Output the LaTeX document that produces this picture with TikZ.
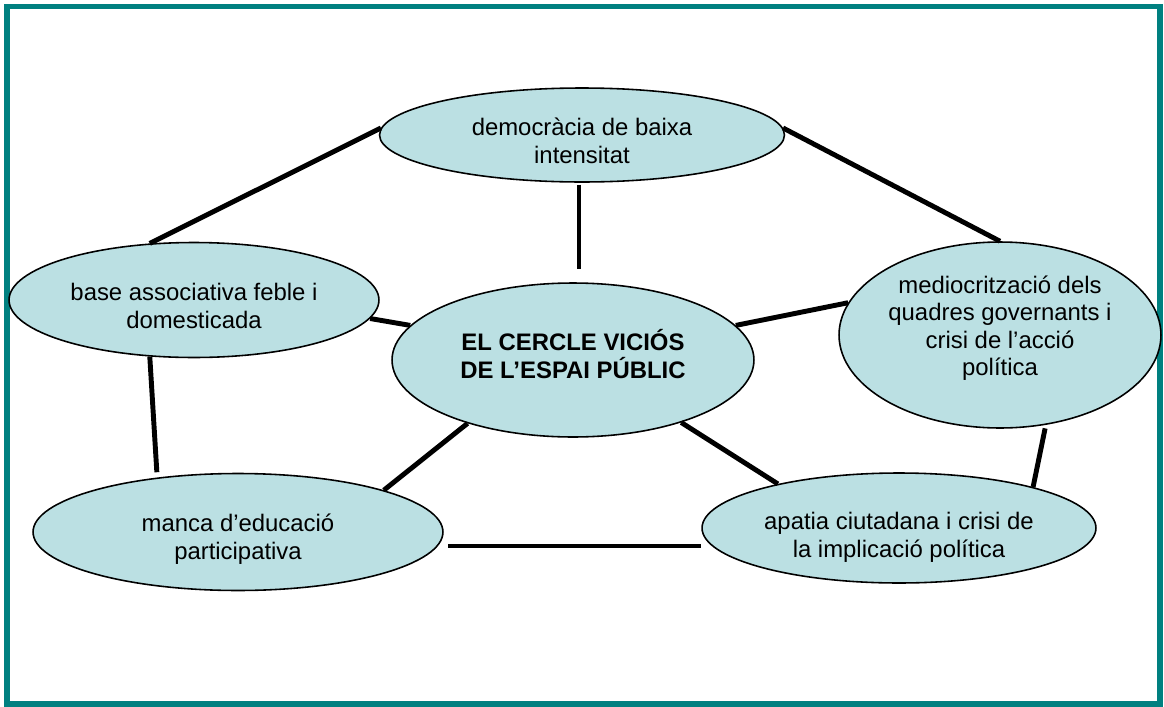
\documentclass[tikz,border=0pt]{standalone}
\usepackage{fontspec}
\setmainfont{Liberation Sans}
\usetikzlibrary{shapes.geometric}
\definecolor{bubble}{RGB}{187,224,227}
\definecolor{frame}{RGB}{0,128,128}
\begin{document}
\begin{tikzpicture}[x=0.02cm, y=-0.02cm,
	bubble/.style={ellipse, draw=black, line width=0.9pt, fill=bubble, inner sep=0pt},
	words/.style={inner sep=0pt, align=center, font=\fontsize{13.6}{15.6}\selectfont},
	link/.style={line width=2.8pt, black}]
	\useasboundingbox (0,0) rectangle (1164,707);
	\draw[frame, line width=3.2pt] (7,6.5) rectangle (1160,704);
	% the six ellipses
	\node[bubble, minimum width=8.1cm, minimum height=1.88cm] (democracia) at (582,135) {};
	\node[bubble, minimum width=7.24cm, minimum height=3.08cm] (cercle) at (573,360) {};
	\node[bubble, minimum width=6.44cm, minimum height=3.72cm] (mediocritat) at (1000,335) {};
	\node[bubble, minimum width=7.4cm, minimum height=2.3cm] (base) at (194,300) {};
	\node[bubble, minimum width=8.2cm, minimum height=2.34cm] (educacio) at (238,532) {};
	\node[bubble, minimum width=7.88cm, minimum height=2.2cm] (apatia) at (899,528) {};
	% their texts
	\node[words] (democraciaText) at ([yshift=-3.2pt]democracia) {democràcia de baixa\\intensitat};
	\node[words, font=\fontsize{13.6}{15.6}\selectfont\bfseries] (cercleText) at ([yshift=3.4pt]cercle) {EL CERCLE VICIÓS\\DE L’ESPAI PÚBLIC};
	\node[words] (mediocritatText) at ([yshift=4pt]mediocritat) {mediocrització dels\\quadres governants i\\crisi de l’acció\\política};
	\node[words] (baseText) at ([yshift=-3.4pt]base) {base associativa feble i\\domesticada};
	\node[words] (educacioText) at ([yshift=-4pt]educacio) {manca d’educació\\participativa};
	\node[words] (apatiaText) at ([yshift=-5.4pt]apatia) {apatia ciutadana i crisi de\\la implicació política};
	% the links
	\draw[link] (base.128) -- (democracia.178);
	\draw[link] (democracia.2) -- (mediocritat.90);
	\draw[link, shorten <=1pt, shorten >=7.4pt] ([xshift=-1.7pt]democracia.south) -- ([xshift=-1.7pt]democracia.south |- cercle.north);
	\draw[link] (base.354) -- (cercle.168);
	\draw[link] (cercle.12) -- (mediocritat.168);
	\draw[link, shorten >=3pt] (base.232) -- (educacio.146);
	\draw[link] (cercle.211) -- (educacio.16);
	\draw[link] (cercle.330) -- (apatia.160);
	\draw[link, shorten <=2pt] (mediocritat.297) -- (apatia.17);
	\draw[link, shorten <=6pt] (educacio.356) -- (educacio.356 -| apatia.west);
\end{tikzpicture}
\end{document}
